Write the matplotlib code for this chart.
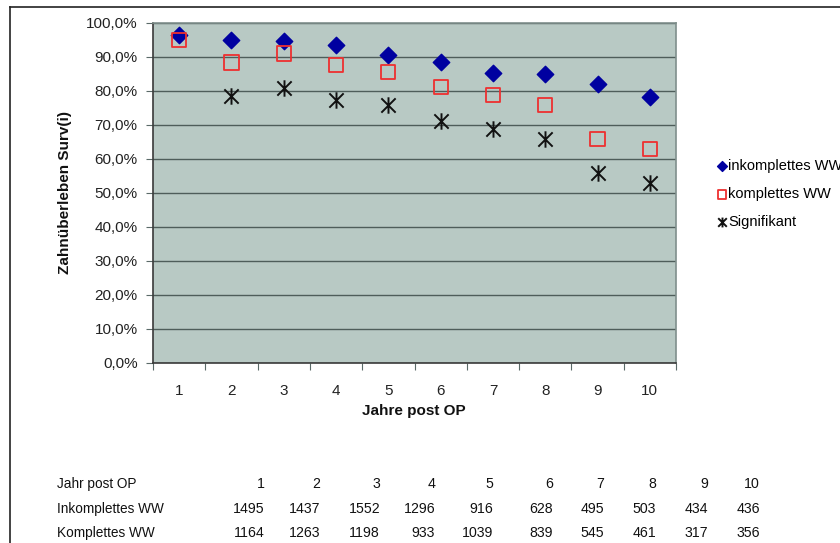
import numpy as np
import matplotlib.pyplot as plt
from matplotlib.lines import Line2D
from matplotlib.path import Path
from matplotlib.ticker import FuncFormatter

plt.rcParams['font.family'] = ['Liberation Sans', 'DejaVu Sans']

# data
years = [1, 2, 3, 4, 5, 6, 7, 8, 9, 10]
inkomplett = [96.5, 95.0, 94.8, 93.5, 90.6, 88.5, 85.4, 85.0, 82.1, 78.3]
komplett = [95.0, 88.4, 91.0, 87.6, 85.6, 81.2, 78.9, 75.9, 65.9, 63.0]
signifikant = [np.nan, 78.5, 81.0, 77.5, 75.9, 71.3, 68.9, 65.9, 55.8, 53.0]

table_rows = ['Jahr post OP', 'Inkomplettes WW', 'Komplettes WW']
n_inkomplett = [1495, 1437, 1552, 1296, 916, 628, 495, 503, 434, 436]
n_komplett = [1164, 1263, 1198, 933, 1039, 839, 545, 461, 317, 356]

# Excel-style star: an X with a vertical bar through it
star = Path([(-1, -1), (1, 1), (-1, 1), (1, -1), (0, -1.15), (0, 1.15)],
            [Path.MOVETO, Path.LINETO, Path.MOVETO, Path.LINETO, Path.MOVETO, Path.LINETO])

W, H = 840, 543
fig = plt.figure(figsize=(W / 100, H / 100), dpi=100)

# outer frame (top and left edges only visible)
fig.add_artist(Line2D([10 / W, 1.0], [1 - 7 / H, 1 - 7 / H], color='#222222', lw=1.2))
fig.add_artist(Line2D([10 / W, 10 / W], [0.0, 1 - 7 / H], color='#222222', lw=1.2))

ax = fig.add_axes([153 / W, 1 - 363 / H, (676 - 153) / W, (363 - 23) / H])
ax.set_facecolor('#b8c9c4')
ax.set_xlim(0.5, 10.5)
ax.set_ylim(0, 100)

ax.scatter(years, inkomplett, marker='D', s=70, color='#0000a0', zorder=3,
           label='inkomplettes WW')
ax.scatter(years, komplett, marker='s', s=105, facecolors='none',
           edgecolors='#ee3030', linewidths=1.3, zorder=3, label='komplettes WW')
ax.scatter(years, signifikant, marker=star, s=140, color='#111111',
           linewidths=1.4, zorder=3, label='Signifikant')

# grid
ax.set_yticks(np.arange(0, 101, 10))
ax.yaxis.set_major_formatter(FuncFormatter(lambda v, p: f'{v:.1f}%'.replace('.', ',')))
ax.grid(axis='y', color='#4e5d5a', lw=1.0)
ax.set_axisbelow(True)

# category axis: ticks at boundaries, labels centred
ax.set_xticks(np.arange(0.5, 11, 1))
ax.set_xticklabels([])
ax.set_xticks(years, minor=True)
ax.set_xticklabels([str(y) for y in years], minor=True)
ax.tick_params(axis='x', which='minor', length=0, pad=15, labelsize=11, colors='#222222')
ax.tick_params(axis='x', which='major', length=5, color='#5a6a68', direction='out')
ax.tick_params(axis='y', length=5, color='#5a6a68', labelsize=11, labelcolor='#222222', pad=6)

for s in ax.spines.values():
    s.set_color('#7f8f8c')
    s.set_linewidth(1.2)
ax.spines['left'].set_color('#3a3a3a')
ax.spines['bottom'].set_color('#3a3a3a')

fig.text(414 / W, 1 - 411 / H, 'Jahre post OP', ha='center', va='center',
         fontsize=11, fontweight='bold', color='#111111')
fig.text(65 / W, 1 - 193 / H, 'Zahnüberleben Surv(i)', ha='center', va='center',
         rotation=90, fontsize=11, fontweight='bold', color='#111111')

fig.legend(loc='upper left', bbox_to_anchor=(711 / W, 1 - 152 / H), frameon=False,
           markerscale=0.6, handlelength=0.5, handletextpad=0.2, labelspacing=0.95,
           fontsize=10.5, borderpad=0)

# count table under the chart
col_x = [265, 320, 380, 435, 493, 553, 604, 656, 708, 760]
row_y = [484, 509, 533]
rows = [years, n_inkomplett, n_komplett]
for label, yy, vals in zip(table_rows, row_y, rows):
    fig.text(57 / W, 1 - yy / H, label, ha='left', va='center', fontsize=9.8, color='#111111')
    for xx, v in zip(col_x, vals):
        fig.text(xx / W, 1 - yy / H, str(v), ha='right', va='center', fontsize=10.2,
                 color='#111111')

fig.savefig('out.png', dpi=100)
